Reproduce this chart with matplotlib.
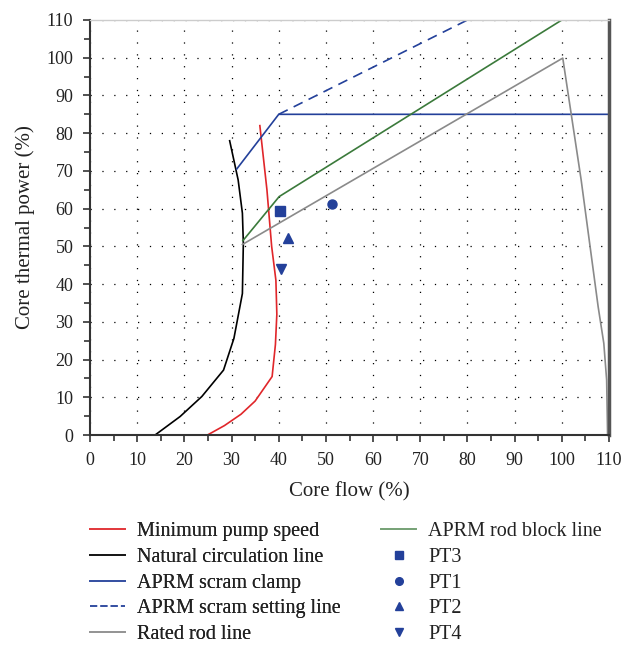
import matplotlib.pyplot as plt
from matplotlib.lines import Line2D
from matplotlib.ticker import MultipleLocator

# curves: (core flow %, core thermal power %)
pump_x = [24.9, 28.5, 32.0, 35.0, 38.6, 39.3, 39.6, 39.4, 38.5, 37.5, 36.0]
pump_y = [0.0, 2.5, 5.5, 9.0, 15.5, 24.0, 32.0, 41.0, 50.0, 65.0, 82.0]

natural_x = [13.8, 19.1, 23.7, 28.3, 30.5, 32.3, 32.5, 32.3, 31.4, 29.6]
natural_y = [0.0, 4.9, 10.2, 17.2, 25.6, 37.5, 50.8, 58.8, 67.6, 78.0]

clamp_x = [31.1, 40.0, 110.0]
clamp_y = [70.5, 85.0, 85.0]

setting_x = [40.0, 80.0]
setting_y = [85.0, 110.0]

rated_x = [32.3, 100.2, 104.1, 107.7, 108.9, 109.5, 109.7]
rated_y = [50.5, 99.9, 67.6, 34.0, 24.3, 14.6, 0.0]

block_x = [32.4, 40.1, 100.0]
block_y = [51.5, 63.2, 110.0]

# operating points
pt_names = ["PT3", "PT1", "PT2", "PT4"]
pt_x = [40.3, 51.2, 42.0, 40.4]
pt_y = [59.4, 61.1, 52.1, 43.9]
pt_markers = ["s", "o", "^", "v"]

red = "#e0262a"
blue = "#23409a"
green = "#3b7a3b"
gray = "#8a8a8a"
text_col = "#222222"

plt.rcParams["font.family"] = ["Liberation Serif", "DejaVu Serif"]

fig = plt.figure(figsize=(6.29, 6.45), dpi=100)
ax = fig.add_axes([90 / 629, 210 / 645, 519 / 629, 415 / 645])

lines = []
lines += ax.plot(pump_x, pump_y, color=red, lw=1.2, label="Minimum pump speed")
lines += ax.plot(natural_x, natural_y, color="black", lw=1.2, label="Natural circulation line")
lines += ax.plot(clamp_x, clamp_y, color=blue, lw=1.2, label="APRM scram clamp")
lines += ax.plot(setting_x, setting_y, color=blue, lw=1.2, ls=(0, (6, 4)), label="APRM scram setting line")
lines += ax.plot(rated_x, rated_y, color=gray, lw=1.2, label="Rated rod line")
lines += ax.plot(block_x, block_y, color=green, lw=1.2, label="APRM rod block line")
for name, x, y, m in zip(pt_names, pt_x, pt_y, pt_markers):
    lines += ax.plot([x], [y], ls="none", marker=m, color=blue, ms=6.5, label=name)

ax.set_xlim(0, 110)
ax.set_ylim(0, 110)
ax.xaxis.set_major_locator(MultipleLocator(10))
ax.yaxis.set_major_locator(MultipleLocator(10))
ax.xaxis.set_minor_locator(MultipleLocator(5))
ax.yaxis.set_minor_locator(MultipleLocator(5))
ax.tick_params(which="both", direction="out", length=5, width=1.2, color="#333333",
               labelsize=13, labelcolor=text_col)
ax.tick_params(which="minor", length=4)
ax.tick_params(axis="x", which="major", pad=7)
ax.tick_params(axis="y", which="major", pad=7)
ax.grid(True, which="major", color="black", lw=0.9, ls=(0, (1, 8.5)))

for s in ["left", "bottom"]:
    ax.spines[s].set_linewidth(1.5)
    ax.spines[s].set_color("#333333")
ax.spines["right"].set_linewidth(2.5)
ax.spines["right"].set_color("#555555")
ax.spines["top"].set_linewidth(1.0)
ax.spines["top"].set_color("#cccccc")

ax.set_xlabel("Core flow (%)", fontsize=15, color=text_col, labelpad=10)
ax.set_ylabel("Core thermal power (%)", fontsize=15, color=text_col, labelpad=8)


def legend_handle(h):
    if h.get_marker() in pt_markers:
        return Line2D([], [], ls="none", marker=h.get_marker(), color=blue, ms=5.5)
    return Line2D([], [], color=h.get_color(), ls=h.get_linestyle(), lw=1.4, alpha=0.7)


labels = [h.get_label() for h in lines]
handles = [legend_handle(h) for h in lines]
leg_opts = dict(loc="upper left", frameon=False, fontsize=14.5, handlelength=1.75,
                handletextpad=0.6, labelspacing=0.33, borderpad=0, borderaxespad=0,
                labelcolor=text_col)
leg1 = fig.legend(handles[:5], labels[:5], bbox_to_anchor=(90 / 629, 1 - 522 / 645), **leg_opts)
fig.legend(handles[5:], labels[5:], bbox_to_anchor=(381 / 629, 1 - 522 / 645), **leg_opts)
fig.add_artist(leg1)

fig.savefig("out.png", dpi=100)
